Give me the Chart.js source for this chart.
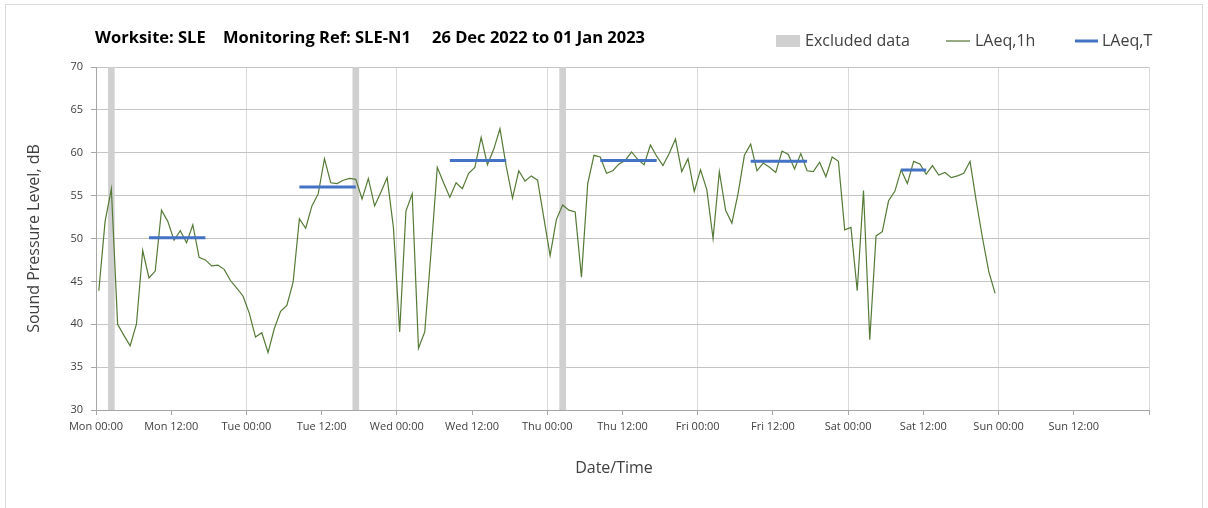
<!DOCTYPE html>
<html>
<head>
<meta charset="utf-8">
<script src="https://cdn.jsdelivr.net/npm/chart.js@4"></script>
<style>
  body { margin: 0; background: #fff; }
  #wrap { position: relative; width: 1208px; height: 508px; }
  #frame { position: absolute; left: 5px; top: 4px; width: 1196px; height: 520px; border: 1px solid #d9d9d9; }
  canvas { position: absolute; left: 0; top: 0; }
</style>
</head>
<body>
<div id="wrap">
  <div id="frame"></div>
  <canvas id="noiseChart" width="1208" height="508"></canvas>
</div>
<script>
// hourly LAeq,1h from Mon 00:00, one value per hour
var laeq1h = [
    43.9, 52.0, 55.8, 40.0, 38.7, 37.5, 40.0, 48.6, 45.4, 46.2, 53.3, 52.0,
    49.8, 50.9, 49.5, 51.6, 47.8, 47.5, 46.8, 46.9, 46.4, 45.1, 44.2, 43.3,
    41.3, 38.5, 39.0, 36.7, 39.5, 41.5, 42.2, 44.9, 52.3, 51.2, 53.8, 55.2,
    59.3, 56.5, 56.4, 56.8, 57.0, 56.9, 54.6, 57.0, 53.8, 55.4, 57.1, 51.3,
    39.1, 53.2, 55.2, 37.2, 39.1, 48.4, 58.3, 56.5, 54.8, 56.5, 55.8, 57.6,
    58.3, 61.8, 58.6, 60.4, 62.8, 58.4, 54.7, 57.9, 56.7, 57.3, 56.8, 52.4,
    48.0, 52.2, 53.9, 53.3, 53.1, 45.5, 56.4, 59.7, 59.5, 57.6, 57.9, 58.7,
    59.1, 60.1, 59.2, 58.6, 60.9, 59.6, 58.5, 59.9, 61.6, 57.8, 59.3, 55.5,
    58.0, 55.7, 50.0, 57.8, 53.3, 51.8, 55.3, 59.7, 61.0, 57.9, 58.8, 58.3,
    57.7, 60.2, 59.8, 58.1, 59.9, 57.9, 57.8, 58.9, 57.2, 59.5, 59.0, 51.0,
    51.3, 43.9, 55.6, 38.2, 50.3, 50.8, 54.4, 55.5, 58.0, 56.4, 59.0, 58.7,
    57.5, 58.5, 57.4, 57.7, 57.1, 57.3, 57.6, 59.0, 54.3, 50.0, 46.1, 43.6
];

// LAeq,T periods (hour index of first and last hour, level)
var periodStart = [8, 32, 56, 80, 104, 128];
var periodEnd = [17, 41, 65, 89, 113, 132];
var periodLevel = [50.1, 56.0, 59.1, 59.1, 59.0, 58.0];

// hours marked as excluded
var excludedHours = [2, 41, 74];

var tickLabels = ['Mon 00:00', 'Mon 12:00', 'Tue 00:00', 'Tue 12:00', 'Wed 00:00', 'Wed 12:00',
    'Thu 00:00', 'Thu 12:00', 'Fri 00:00', 'Fri 12:00', 'Sat 00:00', 'Sat 12:00',
    'Sun 00:00', 'Sun 12:00', ''];

var HOUR_POS = 0.45; // where each hourly point sits inside its hour

var lineData = laeq1h.map(function (v, i) { return { x: i + HOUR_POS, y: v }; });

var periodData = [];
periodStart.forEach(function (s, i) {
    periodData.push({ x: s + HOUR_POS, y: periodLevel[i] });
    periodData.push({ x: periodEnd[i] + HOUR_POS, y: periodLevel[i] });
    periodData.push({ x: periodEnd[i] + HOUR_POS + 0.5, y: null });
});

var excludedData = excludedHours.map(function (h) { return { x: h + HOUR_POS, y: 70 }; });

var textFont = '"Open Sans", "DejaVu Sans", sans-serif';

var headerPlugin = {
    id: 'header',
    afterDraw: function (chart) {
        var ctx = chart.ctx;
        ctx.save();
        ctx.fillStyle = '#000';
        ctx.font = 'bold 16.5px ' + textFont;
        ctx.textBaseline = 'middle';
        ctx.textAlign = 'left';
        ctx.fillText('Worksite: SLE', 95, 38);
        ctx.fillText('Monitoring Ref: SLE-N1', 223, 38);
        ctx.fillText('26 Dec 2022 to 01 Jan 2023', 432, 38);

        ctx.font = '16px ' + textFont;
        ctx.fillStyle = '#d0d0d0';
        ctx.fillRect(776, 35, 24, 12);
        ctx.fillStyle = '#404040';
        ctx.fillText('Excluded data', 805, 41);

        ctx.strokeStyle = '#4e7330';
        ctx.lineWidth = 1.2;
        ctx.beginPath();
        ctx.moveTo(946, 41);
        ctx.lineTo(970, 41);
        ctx.stroke();
        ctx.fillText('LAeq,1h', 975, 41);

        ctx.strokeStyle = '#4472c4';
        ctx.lineWidth = 3;
        ctx.beginPath();
        ctx.moveTo(1075, 41);
        ctx.lineTo(1098, 41);
        ctx.stroke();
        ctx.fillText('LAeq,T', 1102, 41);

        // x axis title
        ctx.textAlign = 'center';
        ctx.fillText('Date/Time', 614, 468);
        ctx.restore();
    }
};

new Chart(document.getElementById('noiseChart'), {
    type: 'line',
    data: {
        datasets: [{
            label: 'LAeq,T',
            data: periodData,
            borderColor: '#4472c4',
            borderWidth: 3,
            pointRadius: 0,
            spanGaps: false,
            order: 1
        }, {
            label: 'LAeq,1h',
            data: lineData,
            borderColor: '#557a36',
            borderWidth: 1.2,
            pointRadius: 0,
            tension: 0,
            order: 2
        }, {
            type: 'bar',
            label: 'Excluded data',
            data: excludedData,
            backgroundColor: '#d0d0d0',
            barThickness: 6,
            order: 3
        }]
    },
    options: {
        responsive: false,
        animation: false,
        layout: { padding: { left: 0, top: 67, right: 59, bottom: 0 } },
        plugins: {
            legend: { display: false },
            title: { display: false },
            tooltip: { enabled: false }
        },
        scales: {
            x: {
                type: 'linear',
                min: 0,
                max: 168,
                offset: false,
                afterFit: function (s) { s.height = 98; },
                border: { color: '#a6a6a6' },
                grid: {
                    offset: false,
                    color: function (c) { return c.tick && c.tick.value % 24 === 0 ? '#dadada' : 'rgba(0,0,0,0)'; },
                    tickColor: '#a6a6a6',
                    tickLength: 5
                },
                ticks: {
                    stepSize: 12,
                    autoSkip: false,
                    maxRotation: 0,
                    padding: 5,
                    color: '#404040',
                    font: { family: textFont, size: 11 },
                    callback: function (v) { return tickLabels[v / 12]; }
                },
                title: { display: false }
            },
            y: {
                min: 30,
                max: 70,
                afterFit: function (s) { s.width = 96; },
                border: { color: '#a6a6a6' },
                grid: {
                    color: '#c4c4c4',
                    tickColor: '#a6a6a6',
                    tickLength: 5
                },
                ticks: {
                    stepSize: 5,
                    padding: 8,
                    color: '#404040',
                    font: { family: textFont, size: 11 }
                },
                title: {
                    display: true,
                    text: 'Sound Pressure Level, dB',
                    color: '#404040',
                    font: { family: textFont, size: 16 },
                    padding: { top: 25, bottom: 0 }
                }
            }
        }
    },
    plugins: [headerPlugin]
});
</script>
</body>
</html>
